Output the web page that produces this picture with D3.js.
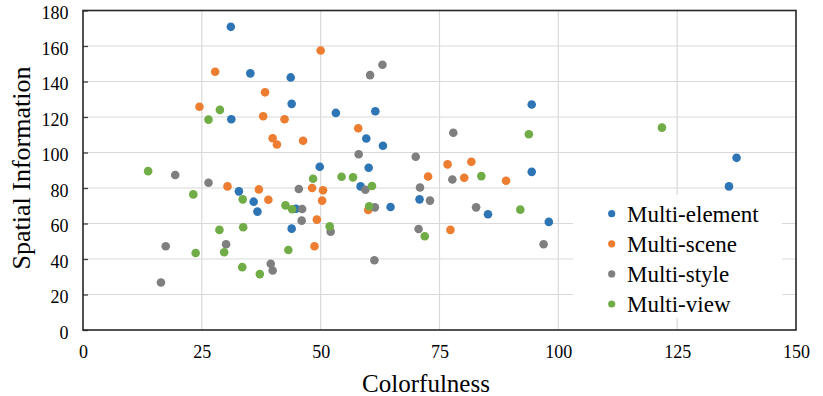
<!DOCTYPE html>
<html>
<head>
<meta charset="utf-8">
<script src="https://cdn.jsdelivr.net/npm/d3@7"></script>
<style>
  body { margin: 0; background: #fff; }
  svg text { font-family: "Liberation Serif", "Times New Roman", serif; fill: #000; }
</style>
</head>
<body>
<svg id="chart" width="823" height="396"></svg>
<script>
// series names + colours
var seriesNames = ["Multi-element", "Multi-scene", "Multi-style", "Multi-view"];
var seriesColors = ["#2e75b6", "#ed7d31", "#7f7f7f", "#70ad47"];

// [colorfulness, spatial information]
var multiElement = [
  [31.1,170.8],[35.2,144.6],[43.7,142.3],[43.9,127.4],[31.2,118.7],[49.8,92.0],[53.2,122.3],
  [61.5,123.2],[94.4,127.0],[59.6,107.9],[63.1,103.8],[60.1,91.4],[94.4,89.1],[137.5,97.0],
  [32.8,78.1],[35.9,72.3],[36.7,66.7],[44.8,68.3],[43.9,57.1],[58.4,80.9],[70.8,73.6],
  [64.7,69.3],[85.2,65.2],[98.0,60.9],[135.9,80.9]
];
var multiScene = [
  [50.0,157.5],[27.8,145.5],[38.3,133.9],[24.5,125.8],[37.9,120.4],[42.4,118.7],[39.9,108.0],
  [40.8,104.5],[46.3,106.6],[57.9,113.7],[76.7,93.3],[81.7,94.8],[30.4,80.9],[37.0,79.2],
  [39.0,73.4],[48.2,80.0],[50.5,78.7],[50.3,72.9],[49.2,62.2],[48.7,47.2],[72.6,86.5],
  [80.2,85.8],[89.0,84.1],[60.0,67.6],[77.3,56.4]
];
var multiStyle = [
  [63.0,149.4],[60.4,143.6],[77.9,111.1],[58.0,99.0],[70.0,97.6],[19.4,87.3],[26.4,83.0],
  [45.4,79.4],[46.1,68.2],[46.0,61.6],[52.1,55.4],[17.4,47.2],[30.1,48.3],[39.5,37.3],
  [39.9,33.5],[16.4,26.8],[77.7,84.8],[59.4,79.0],[70.9,80.3],[73.0,72.9],[61.4,69.1],
  [82.7,69.1],[96.9,48.3],[70.6,56.9],[61.3,39.3]
];
var multiView = [
  [28.8,124.0],[26.4,118.5],[48.4,85.2],[13.7,89.5],[93.8,110.3],[121.8,114.0],[23.2,76.4],
  [33.6,73.6],[42.6,70.2],[44.0,68.0],[51.9,58.4],[28.7,56.4],[33.7,57.9],[23.7,43.4],
  [29.7,43.8],[43.2,45.1],[33.5,35.4],[37.2,31.5],[54.4,86.3],[56.8,86.0],[83.8,86.7],
  [60.8,81.1],[60.2,69.7],[92.0,67.8],[71.9,52.8]
];
var xTicks = [0, 25, 50, 75, 100, 125, 150];
var yTicks = [0, 20, 40, 60, 80, 100, 120, 140, 160, 180];

var allSeries = [multiElement, multiScene, multiStyle, multiView];

(function() {
  var svg = d3.select("#chart");
  var pl = 83, pr = 796, pt = 10.5, pb = 330;

  var x = d3.scaleLinear().domain([0, 150]).range([pl, pr]);
  var y = d3.scaleLinear().domain([0, 180]).range([pb, pt]);

  // gridlines
  svg.append("g").selectAll("line").data(xTicks.slice(1, -1)).enter().append("line")
    .attr("x1", d => x(d)).attr("x2", d => x(d))
    .attr("y1", pt).attr("y2", pb)
    .attr("stroke", "#d9d9d9").attr("stroke-width", 1.2);
  svg.append("g").selectAll("line").data(yTicks.slice(1, -1)).enter().append("line")
    .attr("x1", pl).attr("x2", pr)
    .attr("y1", d => y(d)).attr("y2", d => y(d))
    .attr("stroke", "#d9d9d9").attr("stroke-width", 1.2);

  // axes - y ticks point inward like the original
  var yAxis = svg.append("g").attr("transform", "translate(" + pl + ",0)")
    .call(d3.axisLeft(y).tickValues(yTicks).tickSize(-5).tickPadding(14.5));
  yAxis.select(".domain").remove();
  yAxis.selectAll("line").attr("stroke", "#404040").attr("stroke-width", 1.3);
  yAxis.selectAll("text").style("font-size", "18px").attr("dy", "0.45em");

  var xAxis = svg.append("g").attr("transform", "translate(0," + pb + ")")
    .call(d3.axisBottom(x).tickValues(xTicks).tickSize(0).tickPadding(15));
  xAxis.select(".domain").remove();
  xAxis.selectAll("text").style("font-size", "18px");

  // legend box (white, covers grid)
  svg.append("rect").attr("x", 573).attr("y", 195).attr("width", 209).attr("height", 123)
    .attr("fill", "#fff");

  // plot frame
  svg.append("rect").attr("x", pl).attr("y", pt)
    .attr("width", pr - pl).attr("height", pb - pt)
    .attr("fill", "none").attr("stroke", "#262626").attr("stroke-width", 1.6);

  // points, series in order so green ends up on top
  allSeries.forEach(function(data, i) {
    svg.append("g").selectAll("circle").data(data).enter().append("circle")
      .attr("cx", d => x(d[0])).attr("cy", d => y(d[1]))
      .attr("r", 4.3)
      .attr("fill", seriesColors[i]);
  });

  // legend
  var leg = svg.append("g");
  seriesNames.forEach(function(name, i) {
    var cy = 213.7 + i * 30.1;
    leg.append("circle").attr("cx", 611.7).attr("cy", cy).attr("r", 3.6).attr("fill", seriesColors[i]);
    leg.append("text").attr("x", 627).attr("y", cy + 7.8).style("font-size", "23px").text(name);
  });

  // axis titles
  svg.append("text").attr("x", 426).attr("y", 392)
    .attr("text-anchor", "middle").style("font-size", "25px").text("Colorfulness");
  svg.append("text").attr("transform", "translate(30,168) rotate(-90)")
    .attr("text-anchor", "middle").style("font-size", "26px").text("Spatial Information");
})();
</script>
</body>
</html>
